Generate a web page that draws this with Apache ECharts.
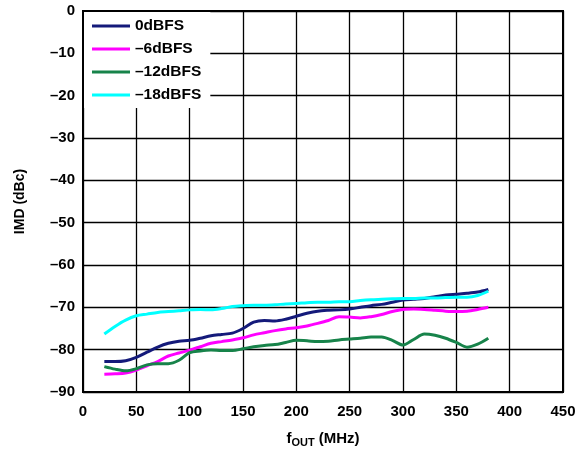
<!DOCTYPE html>
<html><head><meta charset="utf-8">
<script src="https://cdn.jsdelivr.net/npm/echarts@6/dist/echarts.min.js"></script>
<style>html,body{margin:0;padding:0;background:#fff}#c{width:576px;height:452px}</style>
</head><body><div id="c"></div>
<script>
const freq = [20,30,40,50,60,70,80,90,100,110,120,130,140,150,160,170,180,190,200,210,220,230,240,250,260,270,280,290,300,310,320,330,340,350,360,370,380];
const s0dBFS = [-82.8,-82.8,-82.6,-81.8,-80.6,-79.4,-78.5,-78.0,-77.8,-77.3,-76.7,-76.4,-76.1,-75.0,-73.5,-73.1,-73.2,-72.8,-72.1,-71.4,-70.9,-70.7,-70.6,-70.4,-70.0,-69.6,-69.3,-68.8,-68.3,-68.1,-67.9,-67.5,-67.1,-66.9,-66.7,-66.4,-65.8];
const s6dBFS = [-85.8,-85.7,-85.5,-84.8,-83.8,-82.8,-81.5,-80.8,-80.1,-79.3,-78.5,-78.1,-77.7,-77.2,-76.5,-76.0,-75.5,-75.1,-74.8,-74.4,-73.8,-73.1,-72.2,-72.3,-72.5,-72.2,-71.7,-71.0,-70.5,-70.4,-70.5,-70.7,-70.9,-71.0,-70.9,-70.5,-70.0];
const s12dBFS = [-84.0,-84.6,-85.0,-84.5,-83.6,-83.3,-83.3,-82.5,-80.7,-80.3,-80.1,-80.2,-80.2,-79.8,-79.3,-79.0,-78.8,-78.3,-77.8,-77.9,-78.1,-78.0,-77.7,-77.5,-77.3,-77.0,-77.0,-77.8,-78.9,-77.6,-76.3,-76.6,-77.3,-78.3,-79.4,-78.7,-77.3];
const s18dBFS = [-76.3,-74.5,-73.0,-72.0,-71.6,-71.2,-71.0,-70.8,-70.6,-70.5,-70.6,-70.3,-69.8,-69.6,-69.5,-69.5,-69.4,-69.2,-69.1,-68.9,-68.8,-68.8,-68.7,-68.7,-68.4,-68.2,-68.1,-68.0,-67.9,-67.9,-67.8,-67.8,-67.7,-67.6,-67.6,-67.2,-66.2];
const seriesNames = ['0dBFS','–6dBFS','–12dBFS','–18dBFS'];
const seriesColors = ['#141a7a','#ff00ff','#17834a','#00ffff'];
const seriesValues = [s0dBFS, s6dBFS, s12dBFS, s18dBFS];
const xTicks = {min:0, max:450, interval:50};
const yTicks = {min:-90, max:0, interval:10};

const font = 'Liberation Sans, Arial, sans-serif';
const chart = echarts.init(document.getElementById('c'), null, {renderer:'canvas'});
chart.setOption({
  animation:false,
  backgroundColor:'#fff',
  grid:{left:83, right:13, top:11, bottom:60, containLabel:false, outerBoundsMode:'none', show:true, borderColor:'#000', borderWidth:2, backgroundColor:'transparent'},
  legend:{
    orient:'vertical', left:84, top:12,
    backgroundColor:'#fff', padding:[6,9,5,8],
    itemWidth:38, itemHeight:3, itemGap:7, itemTextGap:7, icon:'rect',
    textStyle:{fontFamily:font, fontWeight:'bold', fontSize:15.5, color:'#000'},
    data:seriesNames, z:10
  },
  xAxis:{
    type:'value', min:xTicks.min, max:xTicks.max, interval:xTicks.interval,
    name:'{f|f}{s|OUT}{f| (MHz)}', nameLocation:'middle', nameGap:38,
    nameTextStyle:{rich:{f:{fontFamily:font,fontWeight:'bold',fontSize:15,color:'#000'},s:{fontFamily:font,fontWeight:'bold',fontSize:11,color:'#000',verticalAlign:'bottom',padding:[7,0,0,0]}}},
    axisLine:{show:true, lineStyle:{color:'#000', width:2}},
    axisTick:{show:false},
    axisLabel:{fontFamily:font, fontWeight:'bold', fontSize:15, color:'#000', margin:12},
    splitLine:{show:true, lineStyle:{color:'#000', width:1.3}}
  },
  yAxis:{
    type:'value', min:yTicks.min, max:yTicks.max, interval:yTicks.interval,
    name:'IMD (dBc)', nameLocation:'middle', nameGap:56,
    nameTextStyle:{fontFamily:font, fontWeight:'bold', fontSize:14, color:'#000'},
    axisLine:{show:true, lineStyle:{color:'#000', width:2}},
    axisTick:{show:false},
    axisLabel:{fontFamily:font, fontWeight:'bold', fontSize:15, color:'#000', margin:8,
      formatter:v=> v<0 ? '–'+Math.abs(v) : String(v)},
    splitLine:{show:true, lineStyle:{color:'#000', width:1.3}}
  },
  series: seriesNames.map((n,i)=>({
    name:n, type:'line', showSymbol:false, smooth:0.3,
    color:seriesColors[i],
    lineStyle:{color:seriesColors[i], width:3},
    data: freq.map((f,j)=>[f, seriesValues[i][j]]),
    z:3
  }))
});
</script></body></html>
